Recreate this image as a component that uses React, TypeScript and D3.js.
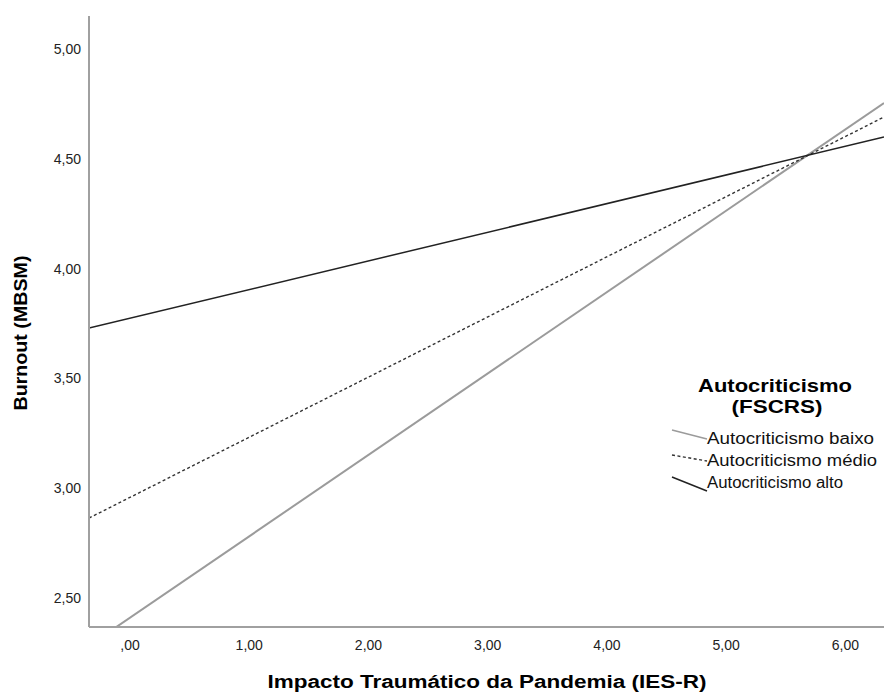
import React, { useEffect, useRef } from 'react';
import { select, scaleLinear, line } from 'd3';

// predicted burnout at the two ends of the x range
const xEnds = [-0.327, 6.34];
const baixo = [2.283, 4.754];
const medio = [2.864, 4.69];
const alto = [3.729, 4.599];

const seriesNames = ['Autocriticismo baixo', 'Autocriticismo médio', 'Autocriticismo alto'];
const xTicks = [0, 1, 2, 3, 4, 5, 6];
const xTickLabels = [',00', '1,00', '2,00', '3,00', '4,00', '5,00', '6,00'];
const yTicks = [2.5, 3, 3.5, 4, 4.5, 5];
const yTickLabels = ['2,50', '3,00', '3,50', '4,00', '4,50', '5,00'];

const W = 884;
const H = 697;
const FONT = 'Liberation Sans, Arial, sans-serif';

const renderChart = (node: SVGSVGElement) => {
  select(node).selectAll('*').remove();
  const svg = select(node);
  const margin = { top: 16, right: 0, bottom: 70, left: 89 };

  const x = scaleLinear().domain([-0.327, 6.34]).range([margin.left, W - margin.right]);
  const y = scaleLinear().domain([2.368, 5.15]).range([H - margin.bottom, margin.top]);

  svg.append('defs').append('clipPath').attr('id', 'plot-clip')
    .append('rect')
    .attr('x', margin.left).attr('y', margin.top)
    .attr('width', W - margin.left - margin.right)
    .attr('height', H - margin.top - margin.bottom);

  const styles = [
    { data: baixo, stroke: '#9b9b9b', width: 2, dash: null },
    { data: medio, stroke: '#333', width: 1.4, dash: '3,2.5' },
    { data: alto, stroke: '#222', width: 1.5, dash: null },
  ];

  const lineGen = line<number>().x((d, i) => x(xEnds[i])).y(d => y(d));

  const plot = svg.append('g').attr('clip-path', 'url(#plot-clip)');
  styles.forEach(s => {
    plot.append('path')
      .attr('d', lineGen(s.data))
      .attr('fill', 'none')
      .attr('stroke', s.stroke)
      .attr('stroke-width', s.width)
      .attr('stroke-dasharray', s.dash);
  });

  // axes (SPSS style, no tick marks)
  svg.append('line')
    .attr('x1', margin.left).attr('x2', margin.left)
    .attr('y1', margin.top).attr('y2', y.range()[0])
    .attr('stroke', '#a0a0a0').attr('stroke-width', 2);
  svg.append('line')
    .attr('x1', margin.left).attr('x2', W)
    .attr('y1', y.range()[0]).attr('y2', y.range()[0])
    .attr('stroke', '#a0a0a0').attr('stroke-width', 2);

  svg.append('g').selectAll('text').data(yTicks).enter().append('text')
    .attr('x', 81)
    .attr('y', d => y(d))
    .attr('dy', '0.36em')
    .attr('text-anchor', 'end')
    .attr('font-family', FONT).attr('font-size', 14).attr('fill', '#222')
    .text((d, i) => yTickLabels[i]);

  svg.append('g').selectAll('text').data(xTicks).enter().append('text')
    .attr('x', d => x(d) + 2)
    .attr('y', 650)
    .attr('text-anchor', 'middle')
    .attr('font-family', FONT).attr('font-size', 14).attr('fill', '#222')
    .text((d, i) => xTickLabels[i]);

  svg.append('text')
    .attr('x', 487).attr('y', 688)
    .attr('text-anchor', 'middle')
    .attr('font-family', FONT).attr('font-size', 18).attr('font-weight', 'bold')
    .attr('textLength', 439).attr('lengthAdjust', 'spacingAndGlyphs')
    .text('Impacto Traumático da Pandemia (IES-R)');

  svg.append('text')
    .attr('transform', 'translate(27,333) rotate(-90)')
    .attr('text-anchor', 'middle')
    .attr('font-family', FONT).attr('font-size', 18).attr('font-weight', 'bold')
    .attr('textLength', 155).attr('lengthAdjust', 'spacingAndGlyphs')
    .text('Burnout (MBSM)');

  // legend
  const legend = svg.append('g');
  legend.append('text')
    .attr('x', 775).attr('y', 392)
    .attr('text-anchor', 'middle')
    .attr('font-family', FONT).attr('font-size', 18).attr('font-weight', 'bold')
    .attr('textLength', 154).attr('lengthAdjust', 'spacingAndGlyphs')
    .text('Autocriticismo');
  legend.append('text')
    .attr('x', 777).attr('y', 413)
    .attr('text-anchor', 'middle')
    .attr('font-family', FONT).attr('font-size', 18).attr('font-weight', 'bold')
    .attr('textLength', 91).attr('lengthAdjust', 'spacingAndGlyphs')
    .text('(FSCRS)');

  const sample = [[430, 439], [455, 461], [477, 491]];
  const itemLen = [167, 170, 136];
  seriesNames.forEach((name, i) => {
    const s = styles[i];
    legend.append('line')
      .attr('x1', 672).attr('x2', 707)
      .attr('y1', sample[i][0]).attr('y2', sample[i][1])
      .attr('stroke', s.stroke)
      .attr('stroke-width', i === 0 ? 1.5 : s.width)
      .attr('stroke-dasharray', s.dash);
    legend.append('text')
      .attr('x', 707).attr('y', 444 + i * 22)
      .attr('font-family', FONT).attr('font-size', 16).attr('fill', '#111')
      .attr('textLength', itemLen[i]).attr('lengthAdjust', 'spacingAndGlyphs')
      .text(name);
  });
};

export default function App() {
  const ref = useRef<SVGSVGElement>(null);
  useEffect(() => {
    if (ref.current) renderChart(ref.current);
  }, []);
  return (
    <svg
      ref={ref}
      width={W}
      height={H}
      style={{ position: 'absolute', left: 0, top: 0, background: '#fff' }}
    />
  );
}
